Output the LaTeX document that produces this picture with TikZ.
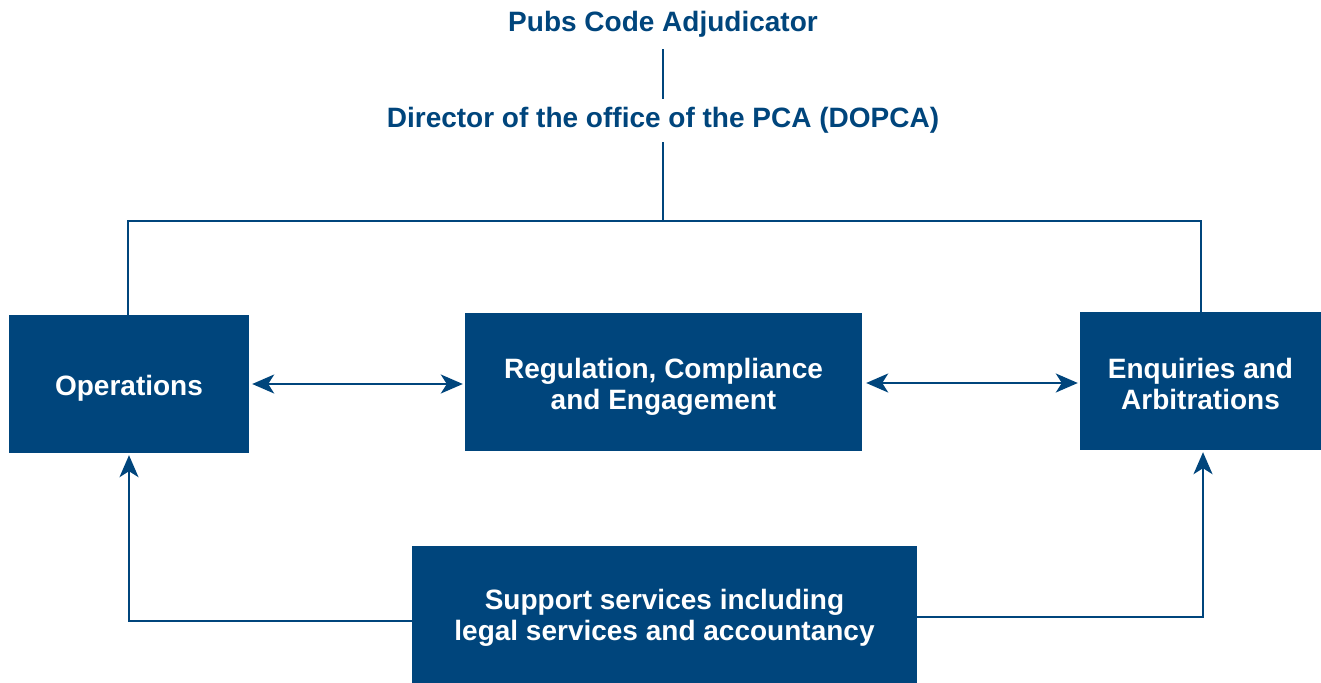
\documentclass[tikz,border=0pt]{standalone}
\usepackage{fontspec}
\setmainfont{Liberation Sans}
\usetikzlibrary{arrows.meta}
\definecolor{pcablue}{RGB}{0,69,124}
\begin{document}
\begin{tikzpicture}[x=1pt,y=-1pt,
  every node/.style={font=\fontsize{28}{31}\selectfont\bfseries},
  title/.style={text=pcablue, inner sep=0pt, text height=21pt, text depth=6pt},
  unitbox/.style={fill=pcablue, inner sep=0pt, minimum height=138pt},
  boxtext/.style={text=white, align=center, inner sep=0pt},
  conn/.style={draw=pcablue, line width=2pt},
  tip/.style={-{Stealth[length=22pt,width=19pt,inset=6pt]}},
  tips/.style={{Stealth[length=22pt,width=19pt,inset=6pt]}-{Stealth[length=22pt,width=19pt,inset=6pt]}}
]
\useasboundingbox (0,0) rectangle (1321,682);
\node[title, anchor=base] (pca) at (663,32) {Pubs Code Adjudicator};
\node[title, anchor=base] (dir) at (663,128) {Director of the office of the PCA (DOPCA)};
\node[unitbox, minimum width=240pt] (ops) at (129,384) {};
\node[unitbox, minimum width=397pt] (reg) at (663.5,382) {};
\node[unitbox, minimum width=241pt] (enq) at (1200.5,381) {};
\node[unitbox, minimum width=505pt] (sup) at (664.5,615) {};
\node[boxtext] (opst) at ([yshift=-4pt]ops.center) {Operations};
\node[boxtext] (regt) at ([yshift=-5pt]reg.center) {Regulation, Compliance\\and Engagement};
\node[boxtext] (enqt) at ([yshift=-3pt]enq.center) {Enquiries and\\Arbitrations};
\node[boxtext] (supt) at ([yshift=-3pt]sup.center) {Support services including\\legal services and accountancy};
\coordinate (top) at (663,221);
\draw[conn, shorten <=11pt, shorten >=8pt] (pca.south) -- (dir.north);
\draw[conn, shorten <=8pt] (dir.south) -- (top);
\draw[conn] ([xshift=-1pt]ops.north) |- (top) -| (enq.north);
\draw[conn, tips, shorten <=3pt, shorten >=2pt] (ops.east) -- (reg.west |- ops.east);
\draw[conn, tips, shorten <=4pt, shorten >=2pt] ([yshift=-1pt]reg.east) -- ([yshift=-1pt]reg.east -| enq.west);
\draw[conn, tip, shorten >=2pt] ([yshift=-6pt]sup.west) -| (ops.south);
\draw[conn, tip, shorten >=2pt] ([yshift=-2pt]sup.east) -| ([xshift=2.5pt]enq.south);
\end{tikzpicture}
\end{document}
